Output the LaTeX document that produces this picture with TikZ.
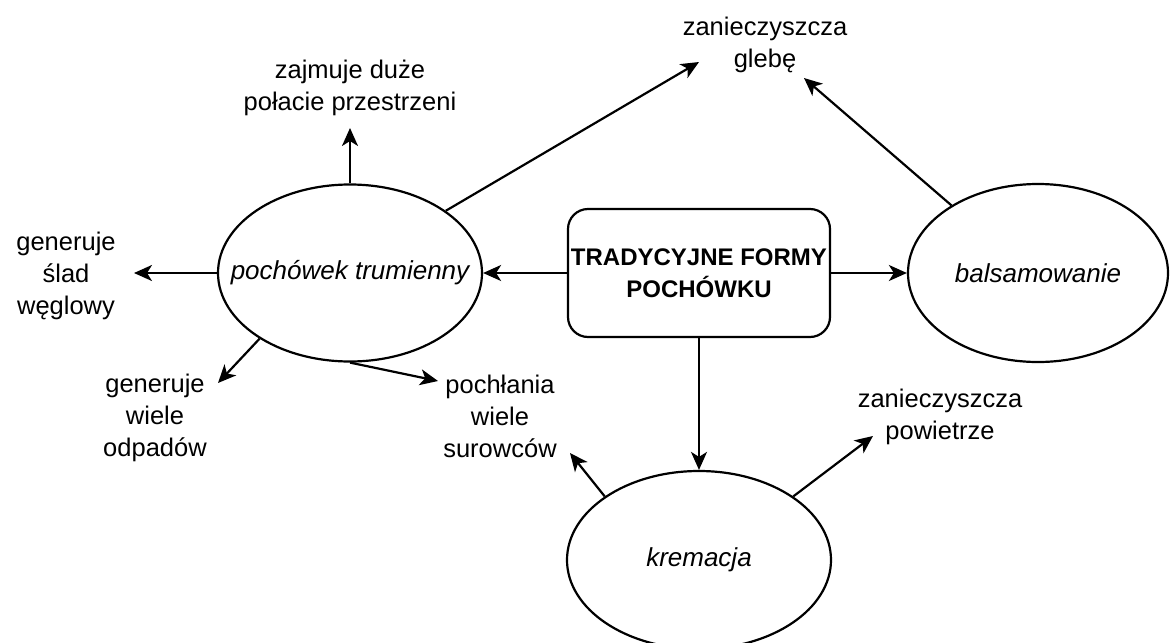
\documentclass[tikz,border=0pt]{standalone}
\usepackage{fontspec}
\setmainfont{Liberation Sans}
\usetikzlibrary{shapes.geometric,arrows.meta}
\begin{document}
\begin{tikzpicture}[x=1pt,y=-1pt,
  every node/.style={font=\fontsize{25.5}{32}\selectfont, inner sep=0pt},
  oval/.style={draw, line width=2.2pt, ellipse, inner sep=0pt,
    label={[font=\fontsize{26}{32}\selectfont\itshape]center:#1}},
  lbl/.style={align=center},
  arr/.style={line width=2.2pt, -{Stealth[length=18pt,width=16pt,inset=5pt]}}
]
\clip (0,0) rectangle (1171,643);
\fill[white] (0,0) rectangle (1171,643);

\node[draw, line width=2.2pt, rounded corners=20pt, minimum width=262pt, minimum height=128pt,
  align=center, font=\fontsize{24}{32}\selectfont\bfseries] (box) at (699,273) {TRADYCYJNE FORMY\\POCHÓWKU};

\node[oval={pochówek trumienny}, minimum width=264pt, minimum height=177pt] (pt) at (350,273) {};
\node[oval={balsamowanie}, minimum width=260pt, minimum height=178pt] (bal) at (1038,273) {};
\node[oval={kremacja}, minimum width=264pt, minimum height=178pt] (kre) at (699,560) {};

\node[lbl] (zaj) at (350,88) {zajmuje duże\\połacie przestrzeni};
\node[lbl] (gle) at (765,45) {zanieczyszcza\\glebę};
\node[lbl] (sla) at (66,276) {generuje\\ślad\\węglowy};
\node[lbl] (odp) at (155,418) {generuje\\wiele\\odpadów};
\node[lbl] (sur) at (500,416) {pochłania\\wiele\\surowców};
\node[lbl] (pow) at (940,417) {zanieczyszcza\\powietrze};

\coordinate (zajE) at (350,128);
\coordinate (gleA) at (699,62);
\coordinate (gleB) at (804,78);
\coordinate (slaE) at (134,273);
\coordinate (odpE) at (218,383);
\coordinate (surA) at (438,381);
\coordinate (surB) at (570,453);
\coordinate (powE) at (873,436);

\draw[arr] (box.west) -- (pt.east);
\draw[arr] (box.east) -- (bal.west);
\draw[arr] (box.south) -- (kre.north);
\draw[arr] (pt.north) -- (zajE);
\draw[arr] (pt.33) -- (gleA);
\draw[arr] (bal.142) -- (gleB);
\draw[arr] (pt.west) -- (slaE);
\draw[arr] (pt.216) -- (odpE);
\draw[arr] (pt.south) -- (surA);
\draw[arr] (kre.146) -- (surB);
\draw[arr] (kre.34) -- (powE);
\end{tikzpicture}
\end{document}
